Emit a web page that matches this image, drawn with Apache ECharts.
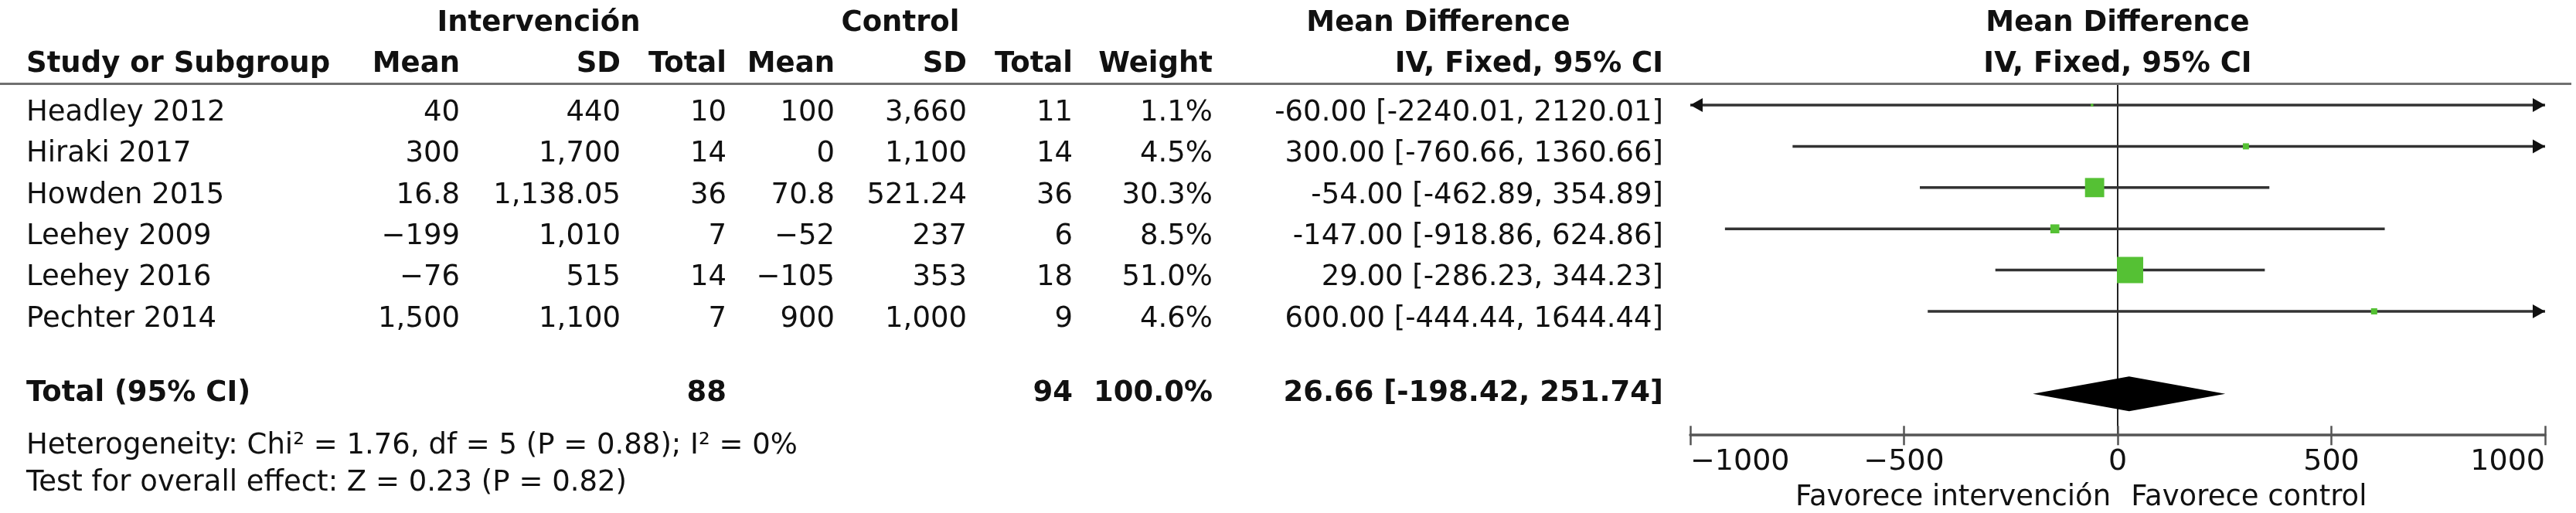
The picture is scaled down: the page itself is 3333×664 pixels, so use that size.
<!DOCTYPE html>
<html>
<head>
<meta charset="utf-8">
<script src="https://cdn.jsdelivr.net/npm/echarts@6/dist/echarts.min.js"></script>
<style>
  html, body { margin: 0; padding: 0; background: #fff; }
  #chart { width: 3333px; height: 664px; }
</style>
</head>
<body>
<div id="chart"></div>
<script>
// study data
const studies = ['Headley 2012', 'Hiraki 2017', 'Howden 2015', 'Leehey 2009', 'Leehey 2016', 'Pechter 2014'];
const intMean = [40, 300, 16.8, -199, -76, 1500];
const intSD = [440, 1700, 1138.05, 1010, 515, 1100];
const intTotal = [10, 14, 36, 7, 14, 7];
const ctrlMean = [100, 0, 70.8, -52, -105, 900];
const ctrlSD = [3660, 1100, 521.24, 237, 353, 1000];
const ctrlTotal = [11, 14, 36, 6, 18, 9];
const weights = [1.1, 4.5, 30.3, 8.5, 51.0, 4.6];
const md = [-60, 300, -54, -147, 29, 600];
const ciLow = [-2240.01, -760.66, -462.89, -918.86, -286.23, -444.44];
const ciHigh = [2120.01, 1360.66, 354.89, 624.86, 344.23, 1644.44];

// pooled result
const totalInt = 88;
const totalCtrl = 94;
const totalWeight = 100.0;
const pooled = [26.66, -198.42, 251.74];

const axisTicks = [-1000, -500, 0, 500, 1000];
const heterogeneity = 'Heterogeneity: Chi² = 1.76, df = 5 (P = 0.88); I² = 0%';
const overallTest = 'Test for overall effect: Z = 0.23 (P = 0.82)';

// layout (pixels / row units)
const ROW_PX = 53.4;
const GRID_TOP = 136 - 0.5 * ROW_PX;
const GRID_BOTTOM = 664 - (136 + 8 * ROW_PX);
const TOTAL_ROW = 7;
const HEAD1 = -1.98, HEAD2 = -0.98, TXT_DY = 0.19, FOOT1 = 8.27, FOOT2 = 9.17, FAV_ROW = 9.52;
const COL = { study: 34, iMean: 595, iSD: 803, iTot: 940, cMean: 1080, cSD: 1251, cTot: 1388, w: 1569, ci: 2152 };
const FONT = '"DejaVu Sans", sans-serif';
const FS = 37;

const minus = s => String(s).replace(/-/g, '\u2212');
const num = v => minus(v.toLocaleString('en-US', { maximumFractionDigits: 2 }));
const ciText = (m, l, h) => m.toFixed(2) + ' [' + l.toFixed(2) + ', ' + h.toFixed(2) + ']';

// table cells
const cells = [];
function cell(x, y, text, align, bold) { cells.push({ x, y, text, align, bold }); }

cell(697, HEAD1, 'Intervención', 'center', true);
cell(1165, HEAD1, 'Control', 'center', true);
cell(1861, HEAD1, 'Mean Difference', 'center', true);
cell(COL.study, HEAD2, 'Study or Subgroup', 'left', true);
cell(COL.iMean, HEAD2, 'Mean', 'right', true);
cell(COL.iSD, HEAD2, 'SD', 'right', true);
cell(COL.iTot, HEAD2, 'Total', 'right', true);
cell(COL.cMean, HEAD2, 'Mean', 'right', true);
cell(COL.cSD, HEAD2, 'SD', 'right', true);
cell(COL.cTot, HEAD2, 'Total', 'right', true);
cell(COL.w, HEAD2, 'Weight', 'right', true);
cell(COL.ci, HEAD2, 'IV, Fixed, 95% CI', 'right', true);

studies.forEach((s, i) => {
  const y = i + TXT_DY;
  cell(COL.study, y, s, 'left', false);
  cell(COL.iMean, y, num(intMean[i]), 'right', false);
  cell(COL.iSD, y, num(intSD[i]), 'right', false);
  cell(COL.iTot, y, String(intTotal[i]), 'right', false);
  cell(COL.cMean, y, num(ctrlMean[i]), 'right', false);
  cell(COL.cSD, y, num(ctrlSD[i]), 'right', false);
  cell(COL.cTot, y, String(ctrlTotal[i]), 'right', false);
  cell(COL.w, y, weights[i].toFixed(1) + '%', 'right', false);
  cell(COL.ci, y, ciText(md[i], ciLow[i], ciHigh[i]), 'right', false);
});

cell(COL.study, TOTAL_ROW, 'Total (95% CI)', 'left', true);
cell(COL.iTot, TOTAL_ROW, String(totalInt), 'right', true);
cell(COL.cTot, TOTAL_ROW, String(totalCtrl), 'right', true);
cell(COL.w, TOTAL_ROW, totalWeight.toFixed(1) + '%', 'right', true);
cell(COL.ci, TOTAL_ROW, ciText(pooled[0], pooled[1], pooled[2]), 'right', true);
cell(COL.study, FOOT1, heterogeneity, 'left', false);
cell(COL.study, FOOT2, overallTest, 'left', false);

// forest-side labels, in x data units
const plotLabels = [
  { x: 0, y: HEAD1, text: 'Mean Difference', align: 'center', bold: true },
  { x: 0, y: HEAD2, text: 'IV, Fixed, 95% CI', align: 'center', bold: true },
  { x: -16, y: FAV_ROW, text: 'Favorece intervención', align: 'right', bold: false },
  { x: 31, y: FAV_ROW, text: 'Favorece control', align: 'left', bold: false }
];

function textItem(list) {
  return function (params, api) {
    const c = list[params.dataIndex];
    const p = api.coord([c.x, c.y]);
    return {
      type: 'text',
      x: p[0], y: p[1],
      style: {
        text: c.text,
        font: (c.bold ? 'bold ' : '') + FS + 'px ' + FONT,
        fill: '#111',
        align: c.align, verticalAlign: 'middle',
        textAlign: c.align, textVerticalAlign: 'middle'
      }
    };
  };
}

const XMIN = axisTicks[0], XMAX = axisTicks[axisTicks.length - 1];

function renderStudy(params, api) {
  const m = api.value(0), row = api.value(1), lo = api.value(2), hi = api.value(3), w = api.value(4);
  const y = api.coord([0, row])[1];
  const x1 = api.coord([Math.max(lo, XMIN), row])[0];
  const x2 = api.coord([Math.min(hi, XMAX), row])[0];
  const xm = api.coord([m, row])[0];
  const children = [{
    type: 'line',
    shape: { x1: x1, y1: y, x2: x2, y2: y },
    style: { stroke: '#333', lineWidth: 3.5 }
  }];
  const AL = 16, AH = 9;
  if (lo < XMIN) {
    children.push({ type: 'polygon', shape: { points: [[x1, y], [x1 + AL, y - AH], [x1 + AL, y + AH]] }, style: { fill: '#111' } });
  }
  if (hi > XMAX) {
    children.push({ type: 'polygon', shape: { points: [[x2, y], [x2 - AL, y - AH], [x2 - AL, y + AH]] }, style: { fill: '#111' } });
  }
  const side = 34 * Math.pow(w / 51, 0.6);
  children.push({
    type: 'rect',
    shape: { x: xm - side / 2, y: y - side / 2, width: side, height: side },
    style: { fill: '#55c134' }
  });
  return { type: 'group', children: children };
}

function renderDiamond(params, api) {
  const m = api.value(0), row = api.value(1), lo = api.value(2), hi = api.value(3);
  const c = api.coord([m, row]);
  const h = 22.5;
  return {
    type: 'polygon',
    shape: { points: [api.coord([lo, row]), [c[0], c[1] - h], api.coord([hi, row]), [c[0], c[1] + h]] },
    style: { fill: '#000' }
  };
}

const chart = echarts.init(document.getElementById('chart'), null, { renderer: 'canvas' });

const option = {
  backgroundColor: '#fff',
  animation: false,
  textStyle: { fontFamily: FONT },
  graphic: [{
    type: 'rect',
    shape: { x: 0, y: 107, width: 3327, height: 3 },
    style: { fill: '#707070' },
    z: 10
  }],
  grid: [
    { left: 0, right: 0, top: GRID_TOP, bottom: GRID_BOTTOM },
    { left: 2187, right: 40, top: GRID_TOP, bottom: GRID_BOTTOM }
  ],
  xAxis: [
    { gridIndex: 0, type: 'value', min: 0, max: 3333, show: false },
    {
      gridIndex: 1, type: 'value', min: XMIN, max: XMAX, interval: 500,
      axisLine: { show: true, onZero: false, lineStyle: { color: '#555', width: 3.5 } },
      axisTick: { show: true, length: 13, lineStyle: { color: '#555', width: 2.5 } },
      axisLabel: {
        show: true, fontSize: 38, color: '#111', margin: 16, fontFamily: FONT,
        alignMinLabel: 'left', alignMaxLabel: 'right',
        formatter: v => minus(v)
      },
      splitLine: { show: false }
    },
    {
      gridIndex: 1, type: 'value', min: XMIN, max: XMAX, interval: 500, position: 'bottom',
      axisLine: { show: false, onZero: false },
      axisTick: { show: true, inside: true, length: 12, lineStyle: { color: '#555', width: 2.5 } },
      axisLabel: { show: false },
      splitLine: { show: false }
    }
  ],
  yAxis: [
    { gridIndex: 0, type: 'value', min: -0.5, max: 8, inverse: true, show: false },
    {
      gridIndex: 1, type: 'value', min: -0.5, max: 8, inverse: true,
      axisLine: { show: true, onZero: true, lineStyle: { color: '#222', width: 2 } },
      axisTick: { show: false }, axisLabel: { show: false }, splitLine: { show: false }
    }
  ],
  series: [
    {
      type: 'custom', xAxisIndex: 0, yAxisIndex: 0,
      renderItem: textItem(cells),
      data: cells.map(c => [c.x, c.y]),
      silent: true
    },
    {
      type: 'custom', xAxisIndex: 1, yAxisIndex: 1,
      renderItem: textItem(plotLabels),
      data: plotLabels.map(c => [c.x, c.y]),
      silent: true
    },
    {
      type: 'custom', xAxisIndex: 1, yAxisIndex: 1,
      renderItem: renderStudy,
      data: studies.map((s, i) => [md[i], i, ciLow[i], ciHigh[i], weights[i]]),
      z: 3
    },
    {
      type: 'custom', xAxisIndex: 1, yAxisIndex: 1,
      renderItem: renderDiamond,
      data: [[pooled[0], TOTAL_ROW, pooled[1], pooled[2]]],
      z: 3
    }
  ]
};

chart.setOption(option);
</script>
</body>
</html>
